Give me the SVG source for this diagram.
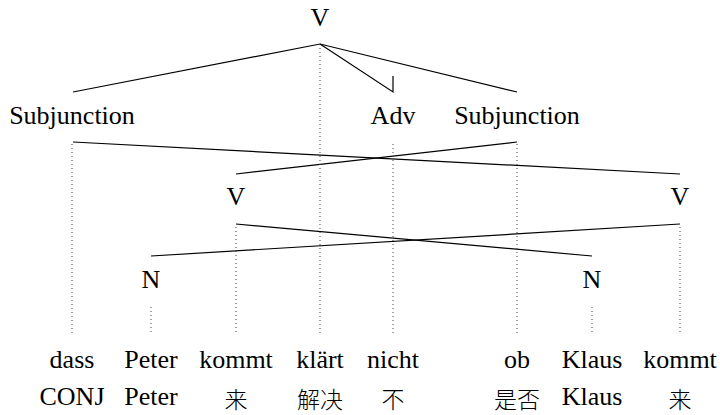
<svg xmlns="http://www.w3.org/2000/svg" width="720" height="415" viewBox="0 0 720 415">
<style>
text{font-family:"Liberation Serif",serif;font-size:26px;fill:#000;text-anchor:middle}
text.cjk{font-family:"Noto Sans CJK SC",sans-serif;font-size:23px;font-weight:300}
.e{fill:none;stroke:#000;stroke-width:1.2}
.p{fill:none;stroke:#444;stroke-width:1;stroke-dasharray:1 3}
</style>
<rect width="720" height="415" fill="#fff"/>
<g id="connectors">
<polyline class="e" points="73,92 320,44 517,92"/>
<polyline class="e" points="320,44 393,92 393,76"/>
<line class="e" x1="73" y1="142" x2="680" y2="174"/>
<line class="e" x1="517" y1="142" x2="236" y2="174"/>
<line class="e" x1="236" y1="224" x2="592" y2="256"/>
<line class="e" x1="680" y1="224" x2="151" y2="256"/>
<line class="p" x1="320" y1="48" x2="320" y2="335"/>
<line class="p" x1="72" y1="144" x2="72" y2="335"/>
<line class="p" x1="393" y1="144" x2="393" y2="335"/>
<line class="p" x1="517" y1="144" x2="517" y2="335"/>
<line class="p" x1="236" y1="227" x2="236" y2="335"/>
<line class="p" x1="680" y1="227" x2="680" y2="335"/>
<line class="p" x1="151" y1="307" x2="151" y2="335"/>
<line class="p" x1="592" y1="307" x2="592" y2="335"/>
</g>
<g id="n-root"><text x="320" y="26">V</text></g>
<g id="n-subj1"><text x="72" y="124">Subjunction</text></g>
<g id="n-adv"><text x="393" y="124">Adv</text></g>
<g id="n-subj2"><text x="517" y="124">Subjunction</text></g>
<g id="n-v1"><text x="236" y="205">V</text></g>
<g id="n-v2"><text x="680" y="205">V</text></g>
<g id="n-n1"><text x="151" y="288">N</text></g>
<g id="n-n2"><text x="592" y="288">N</text></g>
<g id="words">
<text x="72" y="368">dass</text>
<text x="151" y="368">Peter</text>
<text x="236" y="368">kommt</text>
<text x="320" y="368">klärt</text>
<text x="393" y="368">nicht</text>
<text x="517" y="368">ob</text>
<text x="592" y="368">Klaus</text>
<text x="680" y="368">kommt</text>
</g>
<g id="glosses">
<text x="72" y="405">CONJ</text>
<text x="151" y="405">Peter</text>
<text class="cjk" x="236" y="408">来</text>
<text class="cjk" x="320" y="408">解决</text>
<text class="cjk" x="393" y="408">不</text>
<text class="cjk" x="517" y="408">是否</text>
<text x="592" y="405">Klaus</text>
<text class="cjk" x="680" y="408">来</text>
</g>
</svg>
